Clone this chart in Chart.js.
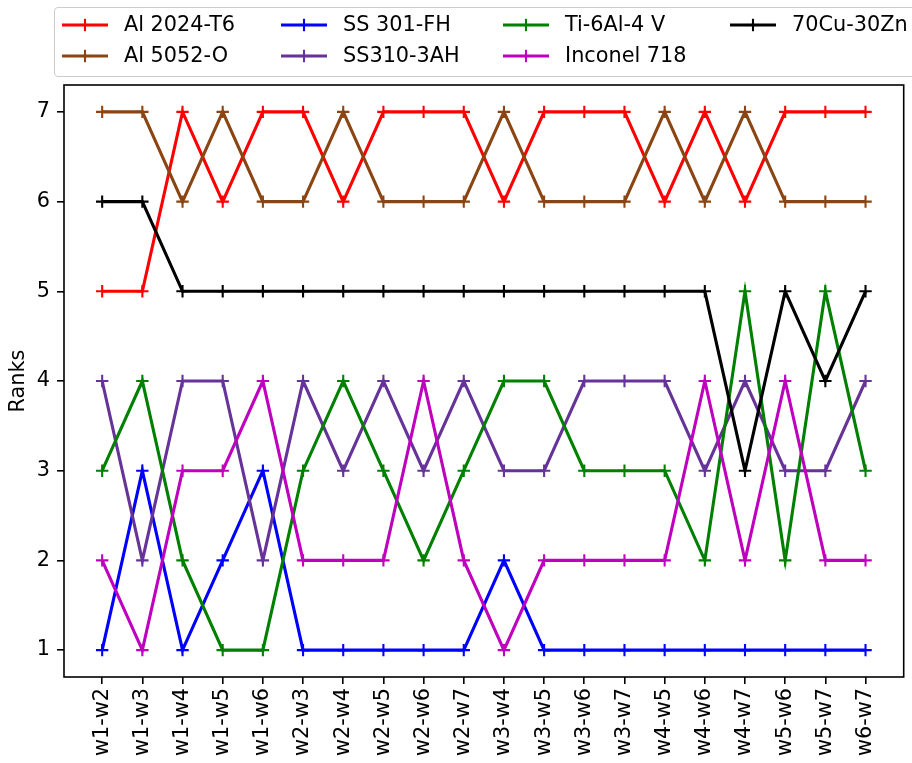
<!DOCTYPE html>
<html>
<head>
<meta charset="utf-8">
<script src="https://cdn.jsdelivr.net/npm/chart.js@4.4.1/dist/chart.umd.min.js"></script>
<style>
    html, body { margin: 0; padding: 0; background: #fff; }
    body { width: 912px; height: 763px; position: relative; overflow: hidden; font-family: 'DejaVu Sans', sans-serif; }
    #wrap { position: absolute; left: 0; top: 0; width: 912px; height: 763px; }
    #legend { position: absolute; left: 54px; top: 7px; width: 880px; height: 68px; border: 1px solid #cccccc; border-radius: 4px; background: rgba(255,255,255,0.8); }
    .item { position: absolute; height: 20px; }
    .item svg { position: absolute; left: 0; top: -8px; }
    .item span { position: absolute; top: -13px; font-size: 20.8px; white-space: nowrap; color: #000; }
</style>
</head>
<body>
<div id="wrap"><canvas id="chart" width="912" height="763"></canvas></div>
<div id="legend"></div>
<script>
// pairs of weeks compared
const categories = ['w1-w2','w1-w3','w1-w4','w1-w5','w1-w6','w2-w3','w2-w4','w2-w5','w2-w6','w2-w7',
                    'w3-w4','w3-w5','w3-w6','w3-w7','w4-w5','w4-w6','w4-w7','w5-w6','w5-w7','w6-w7'];

// ranks per material
const al2024T6   = [5,5,7,6,7,7,6,7,7,7,6,7,7,7,6,7,6,7,7,7];
const al5052O    = [7,7,6,7,6,6,7,6,6,6,7,6,6,6,7,6,7,6,6,6];
const ss301FH    = [1,3,1,2,3,1,1,1,1,1,2,1,1,1,1,1,1,1,1,1];
const ss310_3AH  = [4,2,4,4,2,4,3,4,3,4,3,3,4,4,4,3,4,3,3,4];
const ti6Al4V    = [3,4,2,1,1,3,4,3,2,3,4,4,3,3,3,2,5,2,5,3];
const inconel718 = [2,1,3,3,4,2,2,2,4,2,1,2,2,2,2,4,2,4,2,2];
const cu70Zn30   = [6,6,5,5,5,5,5,5,5,5,5,5,5,5,5,5,3,5,4,5];

const yTicks = [1,2,3,4,5,6,7];

const seriesNames  = ['Al 2024-T6','Al 5052-O','SS 301-FH','SS310-3AH','Ti-6Al-4 V','Inconel 718','70Cu-30Zn'];
const seriesData   = [al2024T6, al5052O, ss301FH, ss310_3AH, ti6Al4V, inconel718, cu70Zn30];
const seriesColors = ['#ff0000','#8b4513','#0000ff','#663399','#008000','#bf00bf','#000000'];

const FONT = { family: "'DejaVu Sans', sans-serif", size: 20.8 };

const datasets = seriesData.map((vals, i) => ({
    label: seriesNames[i],
    data: vals.map((v, j) => ({ x: j, y: v })),
    borderColor: seriesColors[i],
    backgroundColor: seriesColors[i],
    borderWidth: 3.1,
    pointStyle: 'cross',
    pointRadius: 6.2,
    pointBorderWidth: 2.1,
    pointHoverRadius: 6.2,
    tension: 0,
    fill: false,
    order: seriesData.length - i,
}));

const framePlugin = {
    id: 'frame',
    afterDraw(chart) {
        const a = chart.chartArea;
        const ctx = chart.ctx;
        ctx.save();
        ctx.strokeStyle = '#000';
        ctx.lineWidth = 1.6;
        ctx.strokeRect(a.left, a.top, a.right - a.left, a.bottom - a.top);
        ctx.restore();
    }
};

new Chart(document.getElementById('chart'), {
    type: 'line',
    data: { datasets },
    options: {
        responsive: false,
        animation: false,
        layout: { padding: { left: 0, right: 5, top: 85, bottom: 0 } },
        plugins: { legend: { display: false }, tooltip: { enabled: false } },
        scales: {
            x: {
                type: 'linear',
                min: -0.95,
                max: 19.95,
                afterBuildTicks: s => { s.ticks = categories.map((c, i) => ({ value: i })); },
                afterFit: s => { s.height = 86; },
                ticks: {
                    autoSkip: false,
                    minRotation: 90,
                    maxRotation: 90,
                    padding: 4,
                    color: '#000',
                    font: FONT,
                    callback: v => categories[v],
                },
                grid: { drawOnChartArea: false, drawTicks: true, tickLength: 7, color: '#000', lineWidth: 1.6 },
                border: { display: false },
            },
            y: {
                type: 'linear',
                min: 0.7,
                max: 7.3,
                afterBuildTicks: s => { s.ticks = yTicks.map(v => ({ value: v })); },
                afterFit: s => { s.width = 64; },
                ticks: { padding: 7, color: '#000', font: FONT },
                grid: { drawOnChartArea: false, drawTicks: true, tickLength: 7, color: '#000', lineWidth: 1.6 },
                border: { display: false },
                title: { display: true, text: 'Ranks', color: '#000', font: FONT, padding: { top: 6, bottom: 0 } },
            },
        },
    },
    plugins: [framePlugin],
});

// legend laid out in columns like the original figure
const legendCols = [[0, 1], [2, 3], [4, 5], [6]];
const colLeft = [7, 226, 448, 675];
const rowTop = [17, 48];
const legend = document.getElementById('legend');
legendCols.forEach((col, c) => {
    col.forEach((idx, r) => {
        const el = document.createElement('div');
        el.className = 'item';
        el.style.left = colLeft[c] + 'px';
        el.style.top = rowTop[r] + 'px';
        const col = seriesColors[idx];
        el.innerHTML =
            `<svg width="46" height="16"><line x1="0" y1="8" x2="46" y2="8" stroke="${col}" stroke-width="3.1"/>` +
            `<line x1="23" y1="1.8" x2="23" y2="14.2" stroke="${col}" stroke-width="2.1"/>` +
            `<line x1="16.8" y1="8" x2="29.2" y2="8" stroke="${col}" stroke-width="2.1"/></svg>` +
            `<span style="left:62px">${seriesNames[idx]}</span>`;
        legend.appendChild(el);
    });
});
</script>
</body>
</html>
